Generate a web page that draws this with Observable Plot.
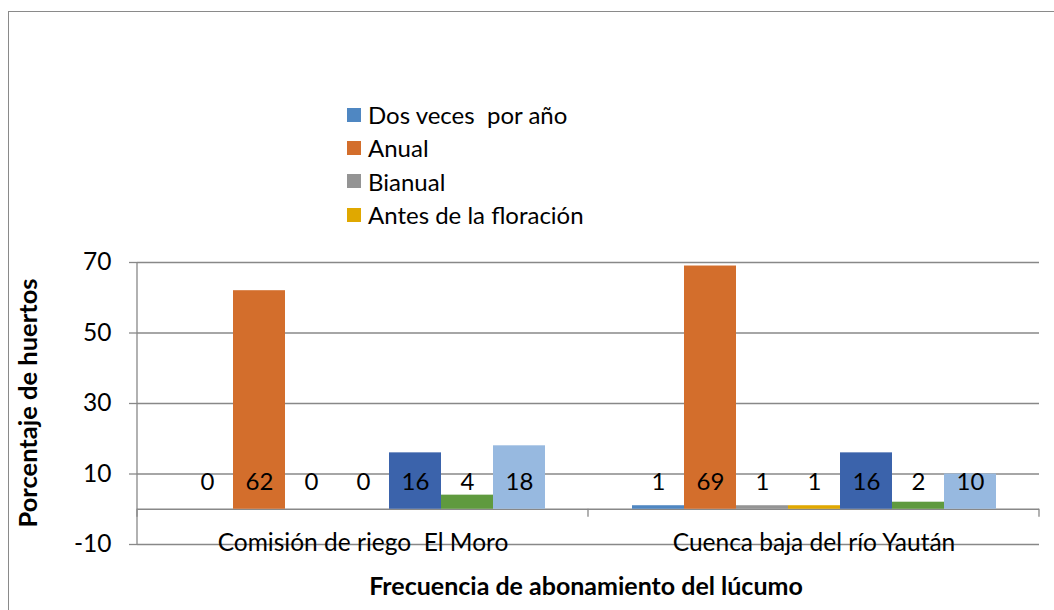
<!DOCTYPE html>
<html>
<head>
<meta charset="utf-8">
<script src="https://cdn.jsdelivr.net/npm/d3@7"></script>
<script src="https://cdn.jsdelivr.net/npm/@observablehq/plot@0.6"></script>
<style>
  body { margin: 0; background: #fff; }
  #wrap { position: relative; width: 1054px; height: 610px; overflow: hidden; font-family: Lato, sans-serif; }
  #frame { position: absolute; left: 8px; top: 11px; width: 1100px; height: 700px; border: 1px solid #8a8a8a; box-sizing: border-box; }
  #chart { position: absolute; left: 0; top: 0; }
  #legend { position: absolute; left: 347px; top: 98px; }
  .row { height: 33.3px; display: flex; align-items: center; white-space: pre; font-size: 24px; color: #000; }
  .sw { width: 14px; height: 14px; margin-right: 7px; }
  .title { position: absolute; font-weight: bold; color: #000; white-space: pre; }
  #ytitle { left: 27px; top: 403px; transform: translate(-50%, -50%) rotate(-90deg); font-size: 25.5px; }
  #xtitle { left: 586px; top: 585px; transform: translate(-50%, -50%); font-size: 25px; }
  svg text { white-space: pre; }
</style>
</head>
<body>
<div id="wrap">
  <div id="frame"></div>
  <div id="chart"></div>
  <div id="legend"></div>
  <div id="ytitle" class="title">Porcentaje de huertos</div>
  <div id="xtitle" class="title">Frecuencia de abonamiento del lúcumo</div>
</div>
<script>
const categories = ["Comisión de riego  El Moro", "Cuenca baja del río Yaután"];
const series = ["Dos veces  por año", "Anual", "Bianual", "Antes de la floración", "Serie 5", "Serie 6", "Serie 7"];
const legendSeries = ["Dos veces  por año", "Anual", "Bianual", "Antes de la floración"];
const comisionValues = [0, 62, 0, 0, 16, 4, 18];
const cuencaValues = [1, 69, 1, 1, 16, 2, 10];
const colors = ["#4f87c2", "#d36e2c", "#949494", "#e0a800", "#3b63ab", "#5f9a3f", "#97b9e0"];
const yTicks = [-10, 10, 30, 50, 70];
const yDomain = [-10, 70];

const valuesByCategory = [comisionValues, cuencaValues];
const data = categories.flatMap((c, i) => series.map((s, j) => ({category: c, series: s, value: valuesByCategory[i][j]})));

const gridColor = "#888888";

const plot = Plot.plot({
  width: 1054,
  height: 610,
  marginTop: 262,
  marginLeft: 136,
  marginRight: 15,
  marginBottom: 66,
  style: {fontFamily: "Lato, sans-serif", fontSize: "24px", color: "#000", background: "transparent", overflow: "visible"},
  fx: {domain: categories, padding: 0, label: null},
  x: {domain: series, paddingInner: 0, paddingOuter: 0.755, axis: null},
  y: {domain: yDomain, label: null},
  color: {domain: series, range: colors},
  marks: [
    Plot.gridY(yTicks, {stroke: gridColor, strokeOpacity: 1, strokeWidth: 1.3}),
    Plot.axisY(yTicks, {tickSize: 8, tickPadding: 18, stroke: gridColor, strokeWidth: 1.3, label: null, fill: "#000", fontSize: 24.5, tickFormat: d => String(d)}),
    Plot.ruleY([0], {stroke: gridColor, strokeWidth: 1.3}),
    Plot.barY(data, {fx: "category", x: "series", y: "value", fill: "series"}),
    Plot.text(data, {fx: "category", x: "series", y: () => 0, text: "value", dy: -27, fill: "#000", fontSize: 24}),
    Plot.axisFx({anchor: "bottom", tickSize: 0, tickPadding: 0, lineAnchor: "middle", dy: -1, label: null, fill: "#000", fontSize: 24.5})
  ]
});

document.getElementById("chart").appendChild(plot);

// y axis line and category separator ticks, positioned through the plot's own scales
const ys = plot.scale("y");
const fxs = plot.scale("fx");
const svg = d3.select(plot);
const g = svg.append("g").attr("stroke", gridColor).attr("stroke-width", 1.3);
const left = fxs.apply(categories[0]);
g.append("line").attr("x1", left).attr("x2", left).attr("y1", ys.apply(yDomain[1])).attr("y2", ys.apply(yDomain[0]));
const edges = categories.map(c => fxs.apply(c)).concat([fxs.apply(categories[categories.length - 1]) + fxs.bandwidth]);
edges.forEach(x => g.append("line").attr("x1", x).attr("x2", x).attr("y1", ys.apply(0)).attr("y2", ys.apply(0) + 8));

// legend
const leg = d3.select("#legend");
legendSeries.forEach(s => {
  const r = leg.append("div").attr("class", "row");
  r.append("div").attr("class", "sw").style("background", colors[series.indexOf(s)]);
  r.append("span").text(s);
});
</script>
</body>
</html>
